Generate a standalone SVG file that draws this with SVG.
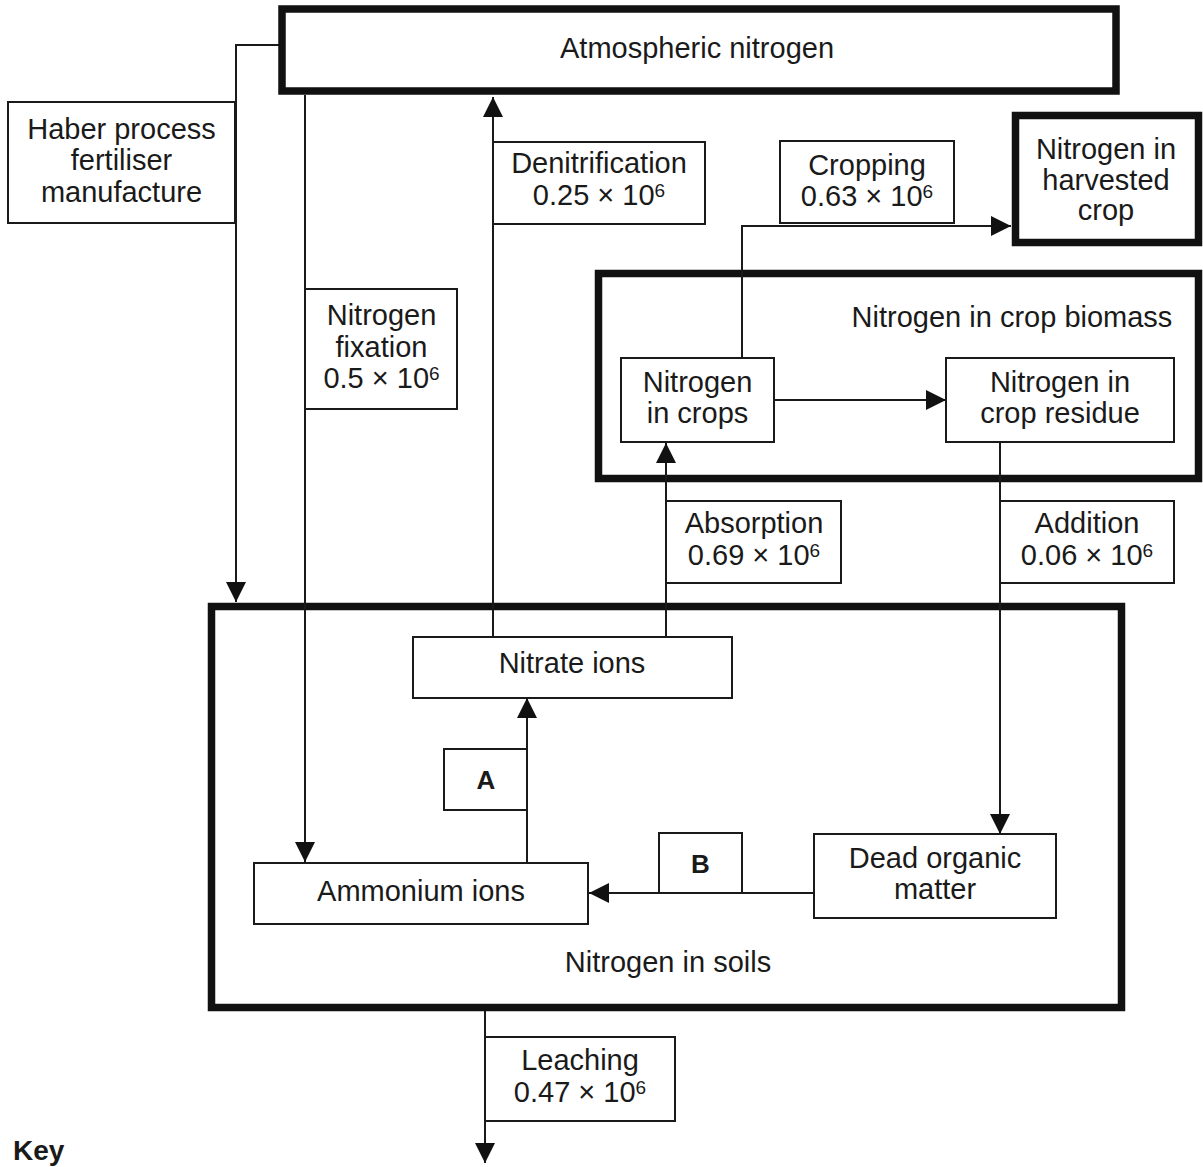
<svg xmlns="http://www.w3.org/2000/svg" width="1203" height="1167" viewBox="0 0 1203 1167">
<style>
  .thin { fill: #fff; stroke: #1a1a1a; stroke-width: 2; }
  .thick { fill: #fff; stroke: #111; stroke-width: 7.5; }
  .frame { fill: none; stroke: #111; stroke-width: 7.5; }
  text { font-family: "Liberation Sans", Arial, sans-serif; font-size: 29px; fill: #1a1a1a; text-anchor: middle; }
  .bold { font-weight: bold; font-size: 26px; }
  .sup { font-size: 19px; }
  .conn { fill: none; stroke: #1a1a1a; stroke-width: 2; marker-end: url(#arr); }
</style>
<defs>
  <marker id="arr" markerUnits="userSpaceOnUse" markerWidth="20" markerHeight="20" viewBox="0 0 18 18" refX="18" refY="9" orient="auto">
    <path d="M0,0 L18,9 L0,18 z" fill="#111"/>
  </marker>
</defs>
<rect width="1203" height="1167" fill="#fff"/>

<!-- container frames -->
<g id="soils">
  <rect class="frame" x="211.5" y="606.5" width="910" height="401"/>
  <text x="668" y="972">Nitrogen in soils</text>
</g>
<g id="crop-biomass">
  <rect class="frame" x="598.5" y="273.5" width="600" height="205"/>
  <text x="1012" y="327">Nitrogen in crop biomass</text>
</g>

<!-- connectors -->
<g id="connectors">
  <polyline class="conn" points="279,45 236,45 236,602"/>
  <line class="conn" x1="305" y1="95" x2="305" y2="862"/>
  <line class="conn" x1="493" y1="637" x2="493" y2="97"/>
  <line class="conn" x1="666" y1="637" x2="666" y2="443"/>
  <polyline class="conn" points="742,358 742,226 1011,226"/>
  <line class="conn" x1="774" y1="400" x2="946" y2="400"/>
  <line class="conn" x1="1000" y1="442" x2="1000" y2="834"/>
  <line class="conn" x1="527" y1="863" x2="527" y2="698"/>
  <line class="conn" x1="814" y1="893" x2="589" y2="893"/>
  <line class="conn" x1="485" y1="1011" x2="485" y2="1163"/>
</g>

<g id="atmospheric-nitrogen">
  <rect class="thick" x="282" y="9" width="834" height="82"/>
  <text x="697" y="58">Atmospheric nitrogen</text>
</g>

<g id="haber">
  <rect class="thin" x="8" y="102" width="227" height="121"/>
  <text x="121.5" y="139">Haber process</text>
  <text x="121.5" y="170">fertiliser</text>
  <text x="121.5" y="202">manufacture</text>
</g>

<g id="label-fixation">
  <rect class="thin" x="305" y="289" width="152" height="120"/>
  <text x="381.5" y="325">Nitrogen</text>
  <text x="381.5" y="357">fixation</text>
  <text x="381.5" y="388">0.5 × 10<tspan class="sup" dy="-8">6</tspan></text>
</g>

<g id="label-denitrification">
  <rect class="thin" x="493" y="142" width="212" height="82"/>
  <text x="599" y="173">Denitrification</text>
  <text x="599" y="205">0.25 × 10<tspan class="sup" dy="-8">6</tspan></text>
</g>

<g id="label-cropping">
  <rect class="thin" x="780" y="141" width="174" height="82"/>
  <text x="867" y="175">Cropping</text>
  <text x="867" y="206">0.63 × 10<tspan class="sup" dy="-8">6</tspan></text>
</g>

<g id="harvested-crop">
  <rect class="thick" x="1015.5" y="115.5" width="183" height="127"/>
  <text x="1106" y="159">Nitrogen in</text>
  <text x="1106" y="190">harvested</text>
  <text x="1106" y="220">crop</text>
</g>

<g id="nitrogen-in-crops">
  <rect class="thin" x="621" y="358" width="153" height="84"/>
  <text x="697.5" y="392">Nitrogen</text>
  <text x="697.5" y="423">in crops</text>
</g>

<g id="crop-residue">
  <rect class="thin" x="946" y="358" width="228" height="84"/>
  <text x="1060" y="392">Nitrogen in</text>
  <text x="1060" y="423">crop residue</text>
</g>

<g id="label-absorption">
  <rect class="thin" x="666" y="501" width="175" height="82"/>
  <text x="754" y="533">Absorption</text>
  <text x="754" y="565">0.69 × 10<tspan class="sup" dy="-8">6</tspan></text>
</g>

<g id="label-addition">
  <rect class="thin" x="1000" y="501" width="174" height="82"/>
  <text x="1087" y="533">Addition</text>
  <text x="1087" y="565">0.06 × 10<tspan class="sup" dy="-8">6</tspan></text>
</g>

<g id="nitrate-ions">
  <rect class="thin" x="413" y="637" width="319" height="61"/>
  <text x="572" y="673">Nitrate ions</text>
</g>

<g id="label-a">
  <rect class="thin" x="444" y="749" width="83" height="61"/>
  <text class="bold" x="486" y="789">A</text>
</g>

<g id="ammonium-ions">
  <rect class="thin" x="254" y="863" width="334" height="61"/>
  <text x="421" y="901">Ammonium ions</text>
</g>

<g id="label-b">
  <rect class="thin" x="659" y="833" width="83" height="60"/>
  <text class="bold" x="700.5" y="873">B</text>
</g>

<g id="dead-organic-matter">
  <rect class="thin" x="814" y="834" width="242" height="84"/>
  <text x="935" y="868">Dead organic</text>
  <text x="935" y="899">matter</text>
</g>

<g id="label-leaching">
  <rect class="thin" x="485" y="1037" width="190" height="84"/>
  <text x="580" y="1070">Leaching</text>
  <text x="580" y="1102">0.47 × 10<tspan class="sup" dy="-8">6</tspan></text>
</g>

<text x="13" y="1160" style="text-anchor:start;font-weight:bold;font-size:28px">Key</text>
</svg>
